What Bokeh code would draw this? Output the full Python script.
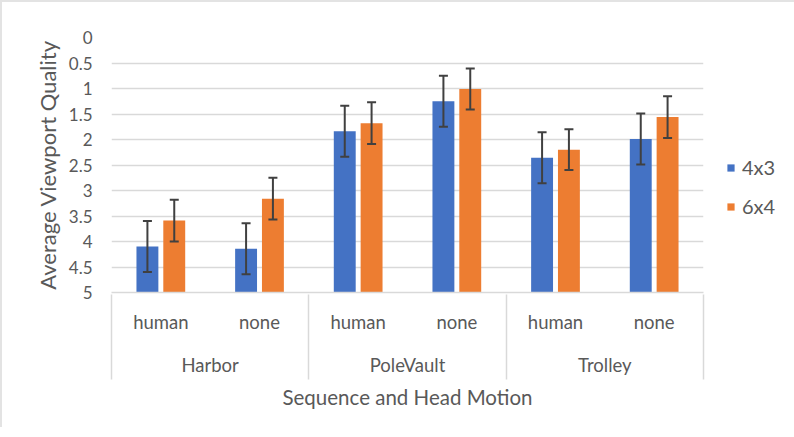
from bokeh.plotting import figure
from bokeh.models import (ColumnDataSource, FactorRange, FixedTicker, Whisker, TeeHead,
                          Legend, LegendItem, Range1d, LinearAxis)
from bokeh.transform import dodge
from bokeh.embed import file_html
from bokeh.resources import INLINE

# ---- data ----
sequences = ["Harbor", "PoleVault", "Trolley"]
motions = ["human", "none"]
series = ["4x3", "6x4"]
vals_4x3 = [4.10, 4.14, 1.84, 1.25, 2.36, 1.99]
err_4x3 = [0.50, 0.50, 0.50, 0.50, 0.50, 0.50]
vals_6x4 = [3.59, 3.16, 1.68, 1.01, 2.20, 1.56]
err_6x4 = [0.41, 0.41, 0.41, 0.40, 0.40, 0.41]
y_ticks = [0, 0.5, 1, 1.5, 2, 2.5, 3, 3.5, 4, 4.5, 5]
y_tick_labels = ["0", "0.5", "1", "1.5", "2", "2.5", "3", "3.5", "4", "4.5", "5"]
y_base = 5

FONT = "Lato"
TXT = "#595959"
GRID = "#d9d9d9"
BLUE = "#4472C4"
ORANGE = "#ED7D31"

factors = [(s, m) for s in sequences for m in motions]
src = ColumnDataSource(dict(
    x=factors,
    a=vals_4x3, a_lo=[v - e for v, e in zip(vals_4x3, err_4x3)], a_hi=[v + e for v, e in zip(vals_4x3, err_4x3)],
    b=vals_6x4, b_lo=[v - e for v, e in zip(vals_6x4, err_6x4)], b_hi=[v + e for v, e in zip(vals_6x4, err_6x4)],
))

xr = FactorRange(*factors, range_padding=0, group_padding=0, factor_padding=0, subgroup_padding=0)
p = figure(x_range=xr, y_range=Range1d(start=y_base, end=0),
           frame_width=592, frame_height=255,
           min_border_left=109, min_border_top=35, min_border_bottom=135, min_border_right=91,
           output_backend="svg", toolbar_location=None)
p.outline_line_color = None
p.background_fill_color = "white"
p.border_fill_color = "white"
p.styles = {"border-top": "2px solid #e3e3e3", "border-left": "2px solid #e3e3e3"}

off = 0.136
w = 0.222
ra = p.vbar(x=dodge("x", -off, range=xr), top="a", bottom=y_base, width=w, source=src,
            fill_color=BLUE, line_color=None)
rb = p.vbar(x=dodge("x", off, range=xr), top="b", bottom=y_base, width=w, source=src,
            fill_color=ORANGE, line_color=None)

for key, d in (("a", -off), ("b", off)):
    wk = Whisker(source=src, base=dodge("x", d, range=xr), upper=key + "_hi", lower=key + "_lo",
                 line_color="#404040", line_width=2, level="overlay",
                 upper_head=TeeHead(size=9, line_color="#404040", line_width=2),
                 lower_head=TeeHead(size=9, line_color="#404040", line_width=2))
    p.add_layout(wk)

# y axis
p.yaxis.ticker = FixedTicker(ticks=y_ticks)
p.yaxis.major_label_overrides = {t: l for t, l in zip(y_ticks, y_tick_labels)}
p.yaxis.axis_line_color = None
p.yaxis.major_tick_line_color = None
p.yaxis.minor_tick_line_color = None
p.yaxis.major_label_standoff = 13
p.yaxis.major_label_text_font = FONT
p.yaxis.major_label_text_font_size = "17px"
p.yaxis.major_label_text_color = TXT
p.yaxis.axis_label = "Average Viewport Quality"
p.yaxis.axis_label_text_font = FONT
p.yaxis.axis_label_text_font_size = "22px"
p.yaxis.axis_label_text_font_style = "normal"
p.yaxis.axis_label_text_color = TXT
p.yaxis.axis_label_standoff = 5

p.ygrid.grid_line_color = GRID
p.ygrid.grid_line_width = 1.5
p.xgrid.grid_line_color = None

# x axis (categorical labels)
xa = p.xaxis[0]
xa.axis_line_color = GRID
xa.axis_line_width = 1.5
xa.major_tick_line_color = None
xa.minor_tick_line_color = None
xa.major_tick_out = 0
xa.major_label_text_font = FONT
xa.major_label_text_font_size = "18.5px"
xa.major_label_text_color = TXT
xa.group_text_font = FONT
xa.group_text_font_size = "18.5px"
xa.group_text_color = TXT
xa.group_text_font_style = "normal"
xa.separator_line_color = None
xa.major_label_standoff = 18

# category separator lines: ticks of a second axis at the group boundaries
bounds = [i * len(motions) for i in range(len(sequences) + 1)]
sep_axis = LinearAxis(ticker=FixedTicker(ticks=bounds),
                      major_label_overrides={b: "" for b in bounds},
                      axis_line_color=None, minor_tick_line_color=None,
                      major_tick_line_color=GRID, major_tick_line_width=1.5,
                      major_tick_in=84, major_tick_out=1, major_label_standoff=0,
                      major_label_text_font_size="1px")
sep_axis.axis_label = "Sequence and Head Motion"
sep_axis.axis_label_text_font = FONT
sep_axis.axis_label_text_font_size = "20.5px"
sep_axis.axis_label_text_font_style = "normal"
sep_axis.axis_label_text_color = TXT
sep_axis.axis_label_standoff = 5
p.add_layout(sep_axis, "below")

legend = Legend(items=[LegendItem(label=series[0], renderers=[ra]),
                       LegendItem(label=series[1], renderers=[rb])],
                location=(23, 74), orientation="vertical",
                glyph_width=9, glyph_height=9, label_height=20, spacing=15,
                label_standoff=7, padding=0, margin=0,
                label_text_font=FONT, label_text_font_size="20px", label_text_color=TXT,
                border_line_color=None, background_fill_alpha=0)
p.add_layout(legend, "right")

open("out.html", "w").write(file_html(p, INLINE))
